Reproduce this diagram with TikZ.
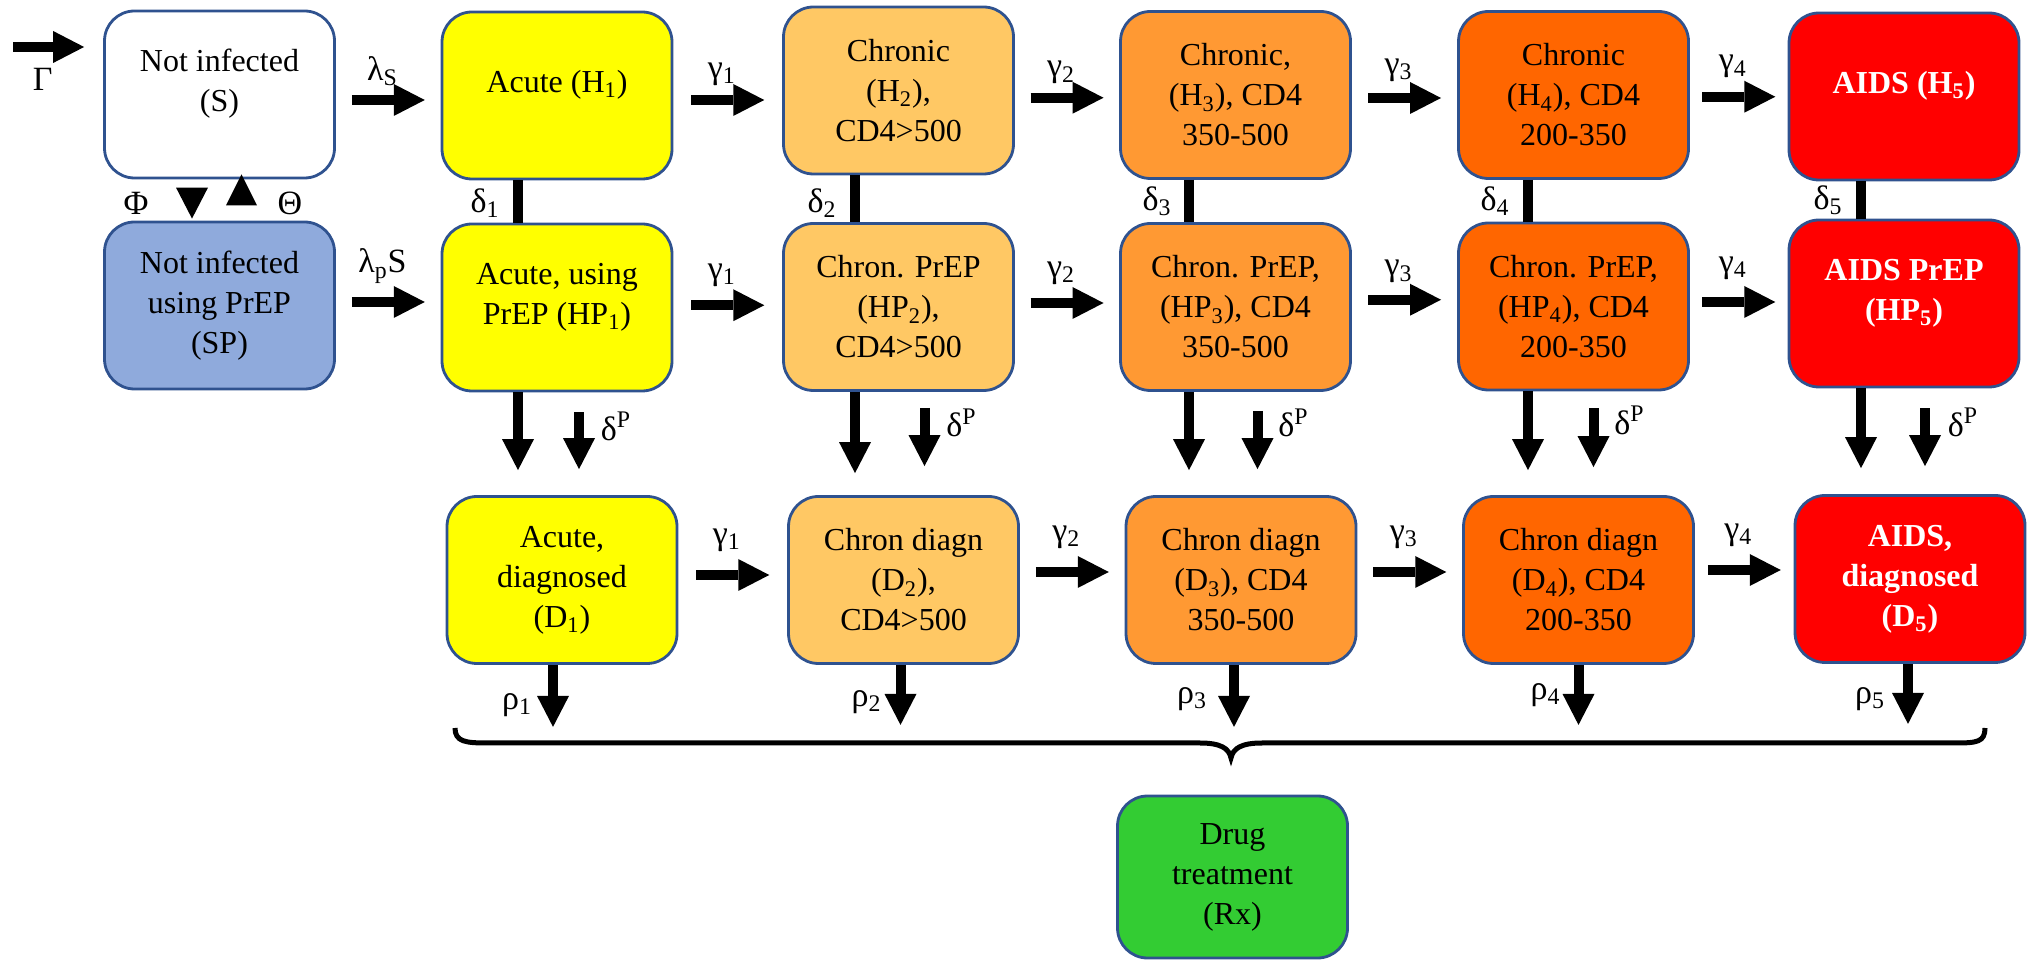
\documentclass[tikz,border=0pt]{standalone}
\usepackage{fontspec}
\setmainfont{Liberation Serif}
\usetikzlibrary{arrows.meta,calc}
\definecolor{bord}{HTML}{2F528F}
\definecolor{prepblue}{HTML}{8FAADC}
\definecolor{yel}{HTML}{FFFF00}
\definecolor{lorange}{HTML}{FFC864}
\definecolor{morange}{HTML}{FF9933}
\definecolor{dorange}{HTML}{FF6600}
\definecolor{aidsred}{HTML}{FF0000}
\definecolor{rxgreen}{HTML}{33CC33}
\newcommand{\pushup}{\rule[-14pt]{0pt}{14pt}}
\newcommand{\harrow}[5]{\draw[fat] ($(#1.east)!0.5!(#2.west)+(-36.5,#4)$) -- ++(73,0) node[lab, pos=0.42, yshift=#5]{#3};}
\begin{document}
\begin{tikzpicture}[x=0.5pt,y=-0.5pt,
  box/.style={draw=bord, line width=1.4pt, rounded corners=15pt, minimum width=115pt, minimum height=83.5pt, align=center, font=\fontsize{16}{20}\selectfont, inner sep=2pt},
  redbox/.style={box, fill=aidsred, text=white, font=\fontsize{16}{20}\selectfont\bfseries},
  fat/.style={line width=5pt, -{Triangle[length=15.5pt,width=16pt,line width=0pt]}},
  dline/.style={line width=5pt},
  lab/.style={font=\fontsize{17}{20}\selectfont, inner sep=0pt}
]
\useasboundingbox (0,0) rectangle (2029,961);
% row 1
\node[box, fill=white] (S) at (219.5,94.5) {Not infected\\(S)\pushup};
\node[box, fill=yel] (H1) at (557,95.5) {Acute (H\textsubscript{1})\pushup};
\node[box, fill=lorange] (H2) at (898.5,90.5) {Chronic\\(H\textsubscript{2}),\\CD4>500};
\node[box, fill=morange] (H3) at (1235.5,95) {Chronic,\\(H\textsubscript{3}), CD4\\350-500};
\node[box, fill=dorange] (H4) at (1573.5,95) {Chronic\\(H\textsubscript{4}), CD4\\200-350};
\node[redbox] (H5) at (1904,96.5) {AIDS (H\textsubscript{5})\pushup};
% row 2
\node[box, fill=prepblue] (SP) at (219.5,305.5) {Not infected\\using PrEP\\(SP)};
\node[box, fill=yel] (HP1) at (557,307.5) {Acute, using\\PrEP (HP\textsubscript{1})\pushup};
\node[box, fill=lorange] (HP2) at (898.5,307) {Chron. PrEP\\(HP\textsubscript{2}),\\CD4>500};
\node[box, fill=morange] (HP3) at (1235.5,307) {Chron. PrEP,\\(HP\textsubscript{3}), CD4\\350-500};
\node[box, fill=dorange] (HP4) at (1573.5,306.5) {Chron. PrEP,\\(HP\textsubscript{4}), CD4\\200-350};
\node[redbox] (HP5) at (1904,303.5) {AIDS PrEP\\(HP\textsubscript{5})\pushup};
% row 3
\node[box, fill=yel] (D1) at (562,580) {Acute,\\diagnosed\\(D\textsubscript{1})};
\node[box, fill=lorange] (D2) at (903.5,580) {Chron diagn\\(D\textsubscript{2}),\\CD4>500};
\node[box, fill=morange] (D3) at (1241,580) {Chron diagn\\(D\textsubscript{3}), CD4\\350-500};
\node[box, fill=dorange] (D4) at (1578.5,580) {Chron diagn\\(D\textsubscript{4}), CD4\\200-350};
\node[redbox] (D5) at (1910,579) {AIDS,\\diagnosed\\(D\textsubscript{5})};
\node[box, fill=rxgreen, minimum height=81pt] (Rx) at (1232.5,877) {Drug\\treatment\\(Rx)};

% inflow
\coordinate (G0) at (13,47);
\draw[fat, shorten >=9.5pt] (G0) -- (G0 -| S.west) node[lab, pos=0.33, yshift=-16pt]{Γ};
% PrEP switching
\fill ($(SP.north)+(-43.5,-33)$) -- ++(32,0) -- ++(-16,31) -- cycle;
\fill ($(S.south)+(6.5,26)$) -- ++(31,0) -- ++(-15.5,-31) -- cycle;
\node[lab] (phi) at (136,203) {Φ};
\node[lab] (theta) at (290,203) {Θ};

% horizontal arrows
\harrow{S}{H1}{λ\textsubscript{S}}{5}{14.5pt}
\harrow{H1}{H2}{γ\textsubscript{1}}{7}{13pt}
\harrow{H2}{H3}{γ\textsubscript{2}}{5}{12.5pt}
\harrow{H3}{H4}{γ\textsubscript{3}}{3}{14pt}
\harrow{H4}{H5}{γ\textsubscript{4}}{1}{15pt}
\harrow{SP}{HP1}{λ\textsubscript{p}S}{-4.5}{18pt}
\harrow{HP1}{HP2}{γ\textsubscript{1}}{-2}{15pt}
\harrow{HP2}{HP3}{γ\textsubscript{2}}{-4}{15pt}
\harrow{HP3}{HP4}{γ\textsubscript{3}}{-7}{14pt}
\harrow{HP4}{HP5}{γ\textsubscript{4}}{-3}{17pt}
\harrow{D1}{D2}{γ\textsubscript{1}}{-5}{17.5pt}
\harrow{D2}{D3}{γ\textsubscript{2}}{-8}{17.5pt}
\harrow{D3}{D4}{γ\textsubscript{3}}{-8}{17.5pt}
\harrow{D4}{D5}{γ\textsubscript{4}}{-9.5}{17.5pt}

% delta lines and down arrows
\draw[dline] ([xshift=-19.5pt]H1.south) -- ([xshift=-19.5pt]HP1.north) node[lab, midway, xshift=-16.5pt, yshift=-1pt]{δ\textsubscript{1}};
\draw[dline] ([xshift=-21.75pt]H2.south) -- ([xshift=-21.75pt]HP2.north) node[lab, midway, xshift=-16.5pt, yshift=-2pt]{δ\textsubscript{2}};
\draw[dline] ([xshift=-23.25pt]H3.south) -- ([xshift=-23.25pt]HP3.north) node[lab, midway, xshift=-16pt]{δ\textsubscript{3}};
\draw[dline] ([xshift=-22.75pt]H4.south) -- ([xshift=-22.75pt]HP4.north) node[lab, midway, xshift=-16.5pt]{δ\textsubscript{4}};
\draw[dline] ([xshift=-21.5pt]H5.south) -- ([xshift=-21.5pt]HP5.north) node[lab, midway, xshift=-16.5pt]{δ\textsubscript{5}};

\coordinate (c1) at ([xshift=-19.5pt]HP1.south);
\coordinate (c2) at ([xshift=-21.75pt]HP2.south);
\coordinate (c3) at ([xshift=-23.25pt]HP3.south);
\coordinate (c4) at ([xshift=-22.75pt]HP4.south);
\coordinate (c5) at ([xshift=-21.5pt]HP5.south);
\draw[fat, shorten >=12.5pt] (c1) -- (c1 |- D1.north);
\draw[fat, shorten >=11pt] (c2) -- (c2 |- D2.north);
\draw[fat, shorten >=12.5pt] (c3) -- (c3 |- D3.north);
\draw[fat, shorten >=12.5pt] (c4) -- (c4 |- D4.north);
\draw[fat, shorten >=13pt] (c5) -- (c5 |- D5.north);

\coordinate (p1) at ([xshift=11pt]HP1.south);
\coordinate (p2) at ([xshift=13pt]HP2.south);
\coordinate (p3) at ([xshift=11pt]HP3.south);
\coordinate (p4) at ([xshift=10pt]HP4.south);
\coordinate (p5) at ([xshift=10.5pt]HP5.south);
\draw[fat, shorten <=10pt, shorten >=13pt] (p1) -- (p1 |- D1.north) node[lab, pos=0.33, xshift=18.5pt]{δ\textsuperscript{P}};
\draw[fat, shorten <=8pt, shorten >=14.5pt] (p2) -- (p2 |- D2.north) node[lab, pos=0.3, xshift=18.5pt]{δ\textsuperscript{P}};
\draw[fat, shorten <=9.5pt, shorten >=13pt] (p3) -- (p3 |- D3.north) node[lab, pos=0.3, xshift=18pt]{δ\textsuperscript{P}};
\draw[fat, shorten <=8.5pt, shorten >=14pt] (p4) -- (p4 |- D4.north) node[lab, pos=0.28, xshift=18pt]{δ\textsuperscript{P}};
\draw[fat, shorten <=10pt, shorten >=14pt] (p5) -- (p5 |- D5.north) node[lab, pos=0.32, xshift=19pt]{δ\textsuperscript{P}};

% rho arrows
\draw[fat] ([xshift=-4.5pt]D1.south) -- ++(0,62) node[lab, pos=0.65, xshift=-18pt]{ρ\textsubscript{1}};
\draw[fat] ([xshift=-1.5pt]D2.south) -- ++(0,60) node[lab, pos=0.62, xshift=-17pt]{ρ\textsubscript{2}};
\draw[fat] ([xshift=-3.5pt]D3.south) -- ++(0,62) node[lab, pos=0.55, xshift=-21pt]{ρ\textsubscript{3}};
\draw[fat] ([xshift=0pt]D4.south) -- ++(0,60) node[lab, pos=0.5, xshift=-16.5pt]{ρ\textsubscript{4}};
\draw[fat] ([xshift=-1pt]D5.south) -- ++(0,60) node[lab, pos=0.58, xshift=-19pt]{ρ\textsubscript{5}};

% brace
\draw[line width=2.5pt] (455,728) .. controls (455,742) and (466,743) .. (488,743) -- (1200,743) .. controls (1220,743) and (1229,748) .. (1231,758) .. controls (1233,748) and (1242,743) .. (1262,743) -- (1955,743) .. controls (1977,743) and (1985,742) .. (1985,728);
\end{tikzpicture}
\end{document}
